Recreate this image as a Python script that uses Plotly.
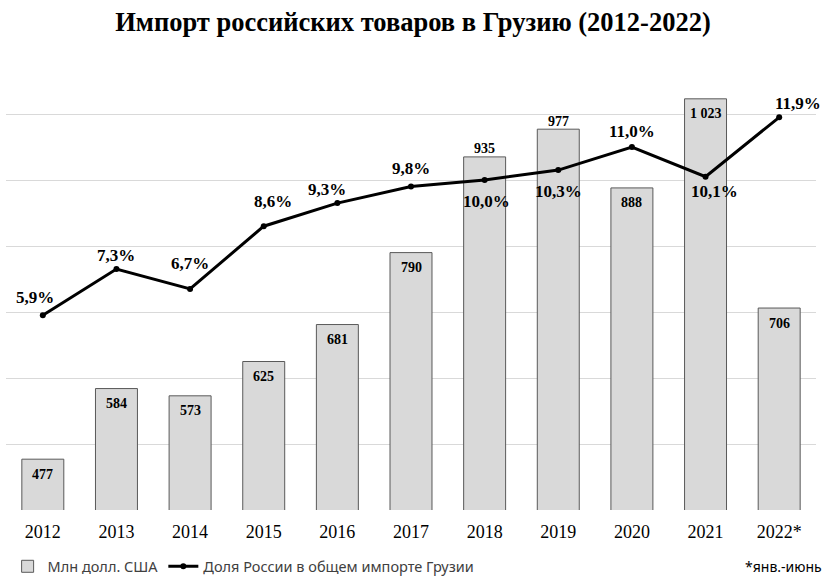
import plotly.graph_objects as go

years = ["2012", "2013", "2014", "2015", "2016", "2017", "2018", "2019", "2020", "2021", "2022*"]
imports_musd = [477, 584, 573, 625, 681, 790, 935, 977, 888, 1023, 706]
import_labels = ["477", "584", "573", "625", "681", "790", "935", "977", "888", "1 023", "706"]
share_pct = [5.9, 7.3, 6.7, 8.6, 9.3, 9.8, 10.0, 10.3, 11.0, 10.1, 11.9]
share_labels = ["5,9%", "7,3%", "6,7%", "8,6%", "9,3%", "9,8%", "10,0%", "10,3%", "11,0%", "10,1%", "11,9%"]

# label placement offsets (pixels): styling only
bar_label_shift = [8 if y in ("2018", "2019") else -15 for y in years]
share_label_dx = [-8, 0, 0, 9, -10, 0, 2, 0, 0, 9, 19]
share_label_dy = [18, 14, 25, 25, 14, 18, -21, -21, 16, -15, 14]

serif = "Times New Roman, Liberation Serif, serif"

fig = go.Figure()
fig.add_trace(go.Bar(
    x=years, y=imports_musd, name="Млн долл. США",
    marker=dict(color="#d9d9d9", line=dict(color="#595959", width=1)),
    yaxis="y",
))
fig.add_trace(go.Scatter(
    x=years, y=share_pct, name="Доля России в общем импорте Грузии",
    mode="lines+markers",
    line=dict(color="black", width=3),
    marker=dict(color="black", size=6),
    cliponaxis=False, yaxis="y2",
))

annotations = []
# category positions on the x axis are addressed by index
for i, (v, t, s) in enumerate(zip(imports_musd, import_labels, bar_label_shift)):
    annotations.append(dict(x=i, y=v, xref="x", yref="y", text=t, showarrow=False,
                            xanchor="center", yanchor="middle", yshift=s,
                            font=dict(family=serif, size=14, color="black", weight="bold")))
for i, (v, t, dx, dy) in enumerate(zip(share_pct, share_labels, share_label_dx, share_label_dy)):
    annotations.append(dict(x=i, y=v, xref="x", yref="y2", text=t, showarrow=False,
                            xanchor="center", yanchor="middle", xshift=dx, yshift=dy,
                            font=dict(family=serif, size=17, color="black", weight="bold")))
annotations.append(dict(text="*янв.-июнь", xref="paper", yref="paper",
                        x=1.01, xanchor="right", y=-0.122, yanchor="middle",
                        showarrow=False,
                        font=dict(family="Noto Sans, sans-serif", size=14, color="#000000")))

fig.update_layout(
    width=826, height=576,
    margin=dict(l=6, r=10, t=48, b=66, autoexpand=False),
    paper_bgcolor="white", plot_bgcolor="white",
    title=dict(text="<b>Импорт российских товаров в Грузию (2012-2022)</b>",
               x=0.5, xanchor="center", y=0.962, yanchor="middle",
               font=dict(family=serif, size=26.5, color="black")),
    bargap=0.43,
    xaxis=dict(type="category", range=[-0.5, 10.5], showgrid=False, showline=False, ticks="",
               ticklabelstandoff=9,
               tickfont=dict(family=serif, size=18, color="#000000")),
    yaxis=dict(range=[400, 1100], dtick=100, showgrid=True, gridcolor="#d9d9d9",
               gridwidth=1, showticklabels=False, zeroline=False, showline=False),
    yaxis2=dict(range=[0, 14], overlaying="y", side="right", showgrid=False,
                showticklabels=False, zeroline=False, showline=False),
    showlegend=True,
    legend=dict(orientation="h", x=0.002, xanchor="left", y=-0.122, yanchor="middle",
                font=dict(family="Noto Sans, sans-serif", size=14.5, color="#404040"),
                itemwidth=30, tracegroupgap=0),
    annotations=annotations,
)

fig.write_html("out.html", config={"displayModeBar": False},
               post_script="document.body.style.margin='0';document.body.style.overflow='hidden';")
